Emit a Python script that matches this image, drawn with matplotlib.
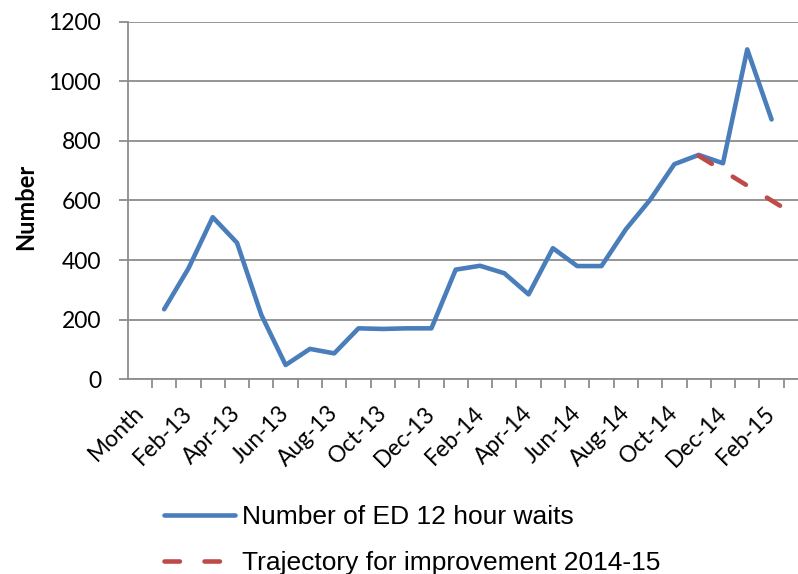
import matplotlib
matplotlib.use("Agg")
import matplotlib.pyplot as plt
from matplotlib.transforms import ScaledTranslation

categories = ["Month",
              "Jan-13", "Feb-13", "Mar-13", "Apr-13", "May-13", "Jun-13",
              "Jul-13", "Aug-13", "Sep-13", "Oct-13", "Nov-13", "Dec-13",
              "Jan-14", "Feb-14", "Mar-14", "Apr-14", "May-14", "Jun-14",
              "Jul-14", "Aug-14", "Sep-14", "Oct-14", "Nov-14", "Dec-14",
              "Jan-15", "Feb-15", "Mar-15"]

waits_months = categories[1:27]
waits = [235, 372, 544, 458, 216, 48, 102, 87, 171, 169, 171, 171,
         368, 381, 356, 285, 440, 380, 380, 503, 602, 722, 753, 725,
         1107, 872]

traj_months = ["Nov-14", "Dec-14", "Jan-15", "Feb-15", "Mar-15"]
trajectory = [750, 700, 650, 600, 550]

yticks = [0, 200, 400, 600, 800, 1000, 1200]

blue = "#4A7EBB"
red = "#BE4B48"
grid_col = "#8C8C8C"
tick_font = "Lato"

W, H = 798, 574
fig = plt.figure(figsize=(W / 100, H / 100), dpi=100)
x0, x1 = 127.7, 808.0
y_top, y_bot = 21.7, 379.3
ax = fig.add_axes([x0 / W, 1 - y_bot / H, (x1 - x0) / W, (y_bot - y_top) / H])

idx = {c: i for i, c in enumerate(categories)}
xw = [idx[m] for m in waits_months]
xt = [idx[m] for m in traj_months]

l1, = ax.plot(xw, waits, color=blue, lw=3.3, solid_capstyle="round",
              solid_joinstyle="round", zorder=3,
              label="Number of ED 12 hour waits")
l2, = ax.plot(xt, trajectory, color=red, lw=3.3, linestyle=(0, (3.36, 5.37)),
              dash_capstyle="round", zorder=4,
              label="Trajectory for improvement 2014-15")

ax.set_xlim(-0.5, len(categories) - 0.5)
ax.set_ylim(0, 1200)
ax.set_yticks(yticks)
ax.set_yticklabels([str(v) for v in yticks], fontfamily=tick_font, fontsize=16.5)

ax.set_xticks([i + 0.5 for i in range(len(categories))], minor=True)
ax.set_xticks(range(0, len(categories), 2))
ax.set_xticklabels(categories[::2], rotation=45, ha="right",
                   rotation_mode="anchor", fontfamily=tick_font, fontsize=16.5)
ax.tick_params(axis="x", which="major", length=0, pad=10)
ax.tick_params(axis="x", which="minor", length=6.2, width=1.3, color=grid_col,
               direction="out")
ax.tick_params(axis="y", length=6.2, width=1.3, color=grid_col, pad=13)

shift = ScaledTranslation(-7 / 100, -9 / 100, fig.dpi_scale_trans)
for lab in ax.get_xticklabels():
    lab.set_transform(lab.get_transform() + shift)

ax.grid(axis="y", color=grid_col, lw=1.3)
ax.set_axisbelow(True)
for s in ["top", "right"]:
    ax.spines[s].set_visible(False)
for s in ["left", "bottom"]:
    ax.spines[s].set_color(grid_col)
    ax.spines[s].set_linewidth(1.3)

ylab = fig.text(26 / W, 1 - 207 / H, "Number", rotation=90, ha="center",
                va="center", fontfamily=tick_font, fontweight="bold",
                fontsize=17)

leg = fig.legend(handles=[l1, l2], loc="upper left",
                 bbox_to_anchor=(164 / W, 1 - 505 / H),
                 frameon=False, prop={"family": "Liberation Sans", "size": 19},
                 handlelength=2.69, handletextpad=0.25, labelspacing=0.84,
                 borderpad=0, borderaxespad=0)

fig.savefig("out.png", dpi=100)
